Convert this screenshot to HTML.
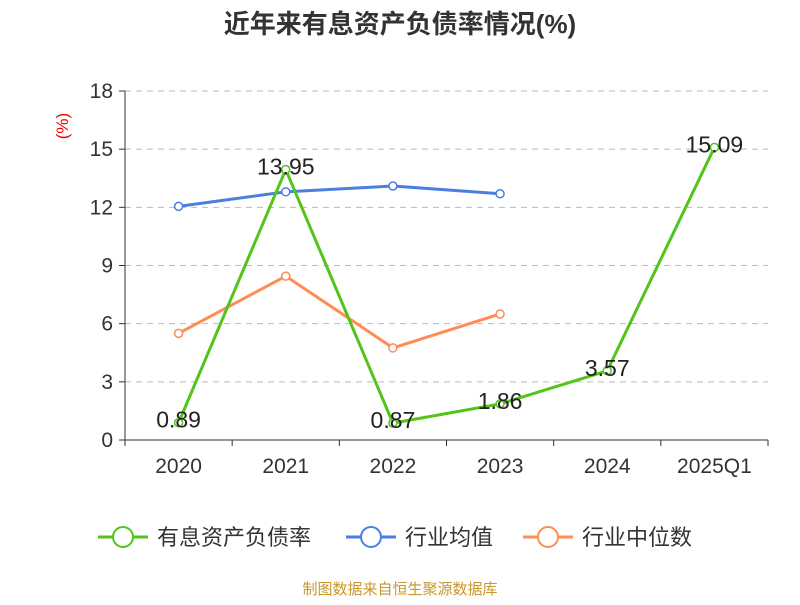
<!DOCTYPE html>
<html><head><meta charset="utf-8"><style>
body{margin:0;background:#fff;font-family:"Liberation Sans","Noto Sans CJK SC",sans-serif}
</style></head><body>
<svg width="800" height="600" xmlns="http://www.w3.org/2000/svg" font-family="Liberation Sans, Noto Sans CJK SC, sans-serif">
<text x="400" y="33" text-anchor="middle" font-size="26" font-weight="bold" fill="#333">近年来有息资产负债率情况(%)</text>
<text x="68" y="126" text-anchor="middle" font-size="17" fill="#e00" transform="rotate(-90 68 126)">(%)</text>
<g id="grid"></g><g id="axes"></g><g id="series"></g>
<g>
<g><line x1="98" y1="537" x2="148" y2="537" stroke="#52c41a" stroke-width="3"/><circle cx="123" cy="537" r="10" fill="#fff" stroke="#52c41a" stroke-width="2"/><text x="157" y="545" font-size="22" fill="#333">有息资产负债率</text></g>
<g><line x1="346" y1="537" x2="396" y2="537" stroke="#4a7fe0" stroke-width="3"/><circle cx="371" cy="537" r="10" fill="#fff" stroke="#4a7fe0" stroke-width="2"/><text x="405" y="545" font-size="22" fill="#333">行业均值</text></g>
<g><line x1="523" y1="537" x2="573" y2="537" stroke="#ff8c55" stroke-width="3"/><circle cx="548" cy="537" r="10" fill="#fff" stroke="#ff8c55" stroke-width="2"/><text x="582" y="545" font-size="22" fill="#333">行业中位数</text></g>
</g>
<text x="400" y="594" text-anchor="middle" font-size="15" fill="#c8962a">制图数据来自恒生聚源数据库</text>
</svg>
<script>
const categories=["2020","2021","2022","2023","2024","2025Q1"];
const debtRatio=[0.89,13.95,0.87,1.86,3.57,15.09];
const industryAvg=[12.05,12.8,13.1,12.7];
const industryMedian=[5.5,8.45,4.75,6.5];
const yTicks=[0,3,6,9,12,15,18];
const NS="http://www.w3.org/2000/svg";
const x0=125,x1=768,y0=440,y1=91,yMax=18;
const band=(x1-x0)/categories.length;
const X=i=>x0+band*(i+0.5);
const Y=v=>y0-(v/yMax)*(y0-y1);
function mk(p,tag,a){const e=document.createElementNS(NS,tag);for(const k in a)e.setAttribute(k,a[k]);p.appendChild(e);return e;}
const grid=document.getElementById('grid'),axes=document.getElementById('axes'),ser=document.getElementById('series');
yTicks.forEach(t=>{
 if(t>0){const g=mk(grid,'line',{x1:x0,x2:x1,y1:Y(t),y2:Y(t),stroke:'#bbb','stroke-dasharray':'6,5'});
 
 }
 const tk=mk(axes,'line',{x1:x0-6,x2:x0,y1:Y(t),y2:Y(t),stroke:'#333'});
 
 
 const l=mk(axes,'text',{x:x0-12,y:Y(t)+7,'text-anchor':'end','font-size':21,fill:'#333'});l.textContent=t;
 
 
});
const ya=mk(axes,'line',{x1:x0,x2:x0,y1:y1,y2:y0,stroke:'#333'});


const xa=mk(axes,'line',{x1:x0,x2:x1,y1:y0,y2:y0,stroke:'#333'});


for(let i=0;i<=categories.length;i++){const tk=mk(axes,'line',{x1:x0+band*i,x2:x0+band*i,y1:y0,y2:y0+6,stroke:'#333'});
 
 }
categories.forEach((c,i)=>{const l=mk(axes,'text',{x:X(i),y:y0+33,'text-anchor':'middle','font-size':21,fill:'#333'});l.textContent=c;
 
 });
function line(data,color,name,labels){
 const g=mk(ser,'g',{});
 
 
 mk(g,'polyline',{points:data.map((v,i)=>X(i)+','+Y(v)).join(' '),fill:'none',stroke:color,'stroke-width':3,'stroke-linejoin':'round'});
 data.forEach((v,i)=>{const c=mk(g,'circle',{cx:X(i),cy:Y(v),r:4,fill:'#fff',stroke:color,'stroke-width':1.5});
  
  
  if(labels){const t=mk(g,'text',{x:X(i),y:Y(v)+5,'text-anchor':'middle','font-size':23,fill:'#222'});t.textContent=v.toFixed(2);
   
   }
 });
}
line(industryMedian,'#ff8c55','industry-median-series',false);
line(industryAvg,'#4a7fe0','industry-avg-series',false);
line(debtRatio,'#52c41a','debt-ratio-series',true);
</script>
</body></html>
